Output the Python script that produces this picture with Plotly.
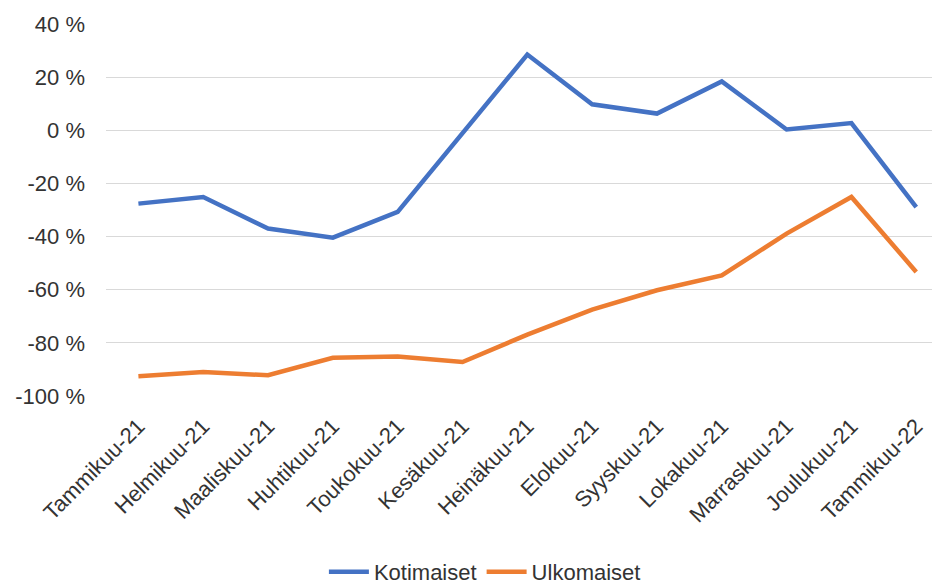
import plotly.graph_objects as go

months = ["Tammikuu-21", "Helmikuu-21", "Maaliskuu-21", "Huhtikuu-21", "Toukokuu-21",
          "Kesäkuu-21", "Heinäkuu-21", "Elokuu-21", "Syyskuu-21", "Lokakuu-21",
          "Marraskuu-21", "Joulukuu-21", "Tammikuu-22"]
kotimaiset = [-27.6, -25.1, -37.0, -40.4, -30.7, -1.2, 28.5, 9.8, 6.3, 18.4, 0.3, 2.7, -28.9]
ulkomaiset = [-92.6, -91.0, -92.2, -85.6, -85.1, -87.2, -76.9, -67.5, -60.2, -54.6, -38.9, -25.1, -53.3]
y_ticks = [-100, -80, -60, -40, -20, 0, 20, 40]
y_ticktext = [f"{v} %" for v in y_ticks]

fig = go.Figure()
fig.add_trace(go.Scatter(x=list(range(len(months))), y=kotimaiset, name="Kotimaiset",
                         mode="lines", line=dict(color="#4472C4", width=4.5)))
fig.add_trace(go.Scatter(x=list(range(len(months))), y=ulkomaiset, name="Ulkomaiset",
                         mode="lines", line=dict(color="#ED7D31", width=4.5)))

fig.update_layout(
    width=940, height=585,
    margin=dict(l=98, r=0, t=16, b=196),
    paper_bgcolor="white", plot_bgcolor="white",
    font=dict(family="Liberation Sans, Arial, sans-serif", size=22, color="#333333"),
    showlegend=True,
    legend=dict(orientation="h", x=0.45, xanchor="center", y=-0.472, yanchor="middle",
                font=dict(size=22, color="#333333"), itemwidth=40, tracegroupgap=0,
                borderwidth=0),
)
fig.update_xaxes(
    tickmode="array", tickvals=list(range(len(months))), ticktext=months,
    tickangle=-45, range=[-0.5, 12.49], showgrid=False, zeroline=False,
    showline=False, ticks="", ticklabelstandoff=12, automargin=False,
)
fig.update_yaxes(
    tickmode="array", tickvals=y_ticks, ticktext=y_ticktext,
    range=[-100, 40], showgrid=True, gridcolor="#D9D9D9", gridwidth=1,
    zeroline=False, showline=False, ticks="", ticklabelstandoff=20, automargin=False,
)

fig.write_html("out.html")
